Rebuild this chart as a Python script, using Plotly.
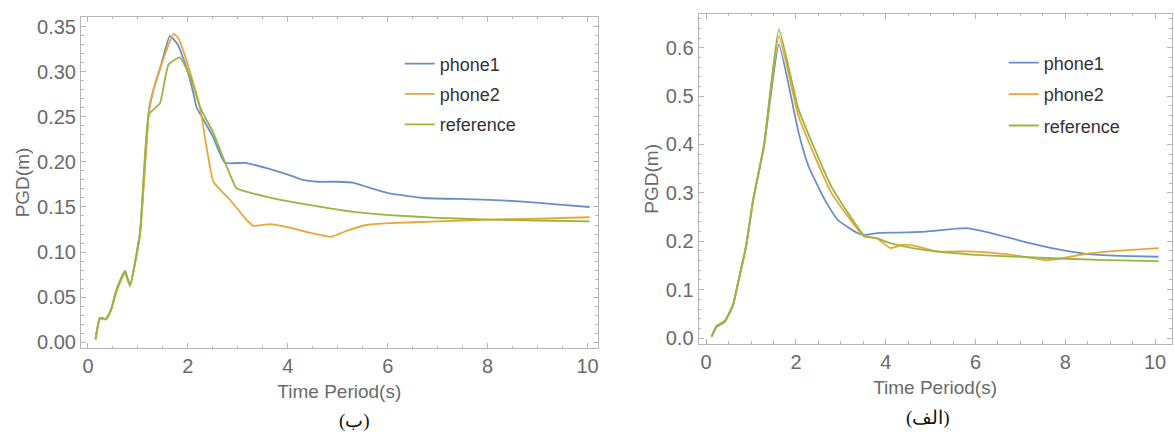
import plotly.graph_objects as go

# ---------- Panel (ب) (left) ----------
b_p1_x = [0.15, 0.24, 0.36, 0.46, 0.57, 0.74, 0.84, 1.04, 1.22, 1.31, 1.45, 1.64, 1.80, 1.97, 2.11, 2.17, 2.30, 2.50, 2.74, 3.14, 3.71, 4.00, 4.30, 4.60, 5.00, 5.30, 5.60, 6.04, 6.71, 7.40, 8.04, 8.70, 9.37, 10.04]
b_p1_y = [0.003, 0.027, 0.026, 0.036, 0.058, 0.079, 0.063, 0.121, 0.258, 0.280, 0.305, 0.340, 0.330, 0.305, 0.276, 0.261, 0.248, 0.228, 0.199, 0.199, 0.191, 0.186, 0.180, 0.178, 0.178, 0.177, 0.172, 0.165, 0.160, 0.159, 0.158, 0.156, 0.153, 0.150]

b_p2_x = [0.15, 0.24, 0.36, 0.46, 0.57, 0.74, 0.84, 1.04, 1.22, 1.31, 1.45, 1.71, 1.80, 1.97, 2.24, 2.51, 2.84, 3.17, 3.31, 3.64, 4.04, 4.40, 4.87, 5.20, 5.57, 6.04, 7.00, 8.04, 9.00, 10.04]
b_p2_y = [0.003, 0.026, 0.025, 0.035, 0.056, 0.077, 0.062, 0.118, 0.255, 0.280, 0.305, 0.342, 0.338, 0.313, 0.261, 0.178, 0.158, 0.136, 0.129, 0.131, 0.127, 0.122, 0.117, 0.124, 0.130, 0.132, 0.134, 0.136, 0.137, 0.1386]

b_ref_x = [0.15, 0.24, 0.36, 0.46, 0.57, 0.74, 0.84, 1.04, 1.22, 1.44, 1.61, 1.84, 2.07, 2.24, 2.51, 2.97, 3.17, 3.60, 4.24, 4.84, 5.40, 6.04, 7.00, 8.04, 9.00, 10.04]
b_ref_y = [0.003, 0.027, 0.026, 0.036, 0.058, 0.079, 0.063, 0.121, 0.253, 0.265, 0.308, 0.316, 0.291, 0.261, 0.232, 0.171, 0.167, 0.161, 0.154, 0.1485, 0.144, 0.141, 0.138, 0.136, 0.135, 0.134]

# ---------- Panel (الف) (right) ----------
a_p1_x = [0.12, 0.23, 0.42, 0.60, 0.71, 0.89, 1.05, 1.29, 1.62, 2.06, 2.28, 2.64, 2.93, 3.37, 3.52, 3.81, 4.25, 4.90, 5.78, 6.21, 7.09, 7.82, 8.47, 9.20, 10.08]
a_p1_y = [0.003, 0.023, 0.034, 0.068, 0.113, 0.189, 0.286, 0.396, 0.607, 0.424, 0.355, 0.286, 0.244, 0.217, 0.213, 0.217, 0.218, 0.220, 0.227, 0.220, 0.199, 0.184, 0.174, 0.170, 0.168]

a_p2_x = [0.12, 0.23, 0.42, 0.60, 0.71, 0.89, 1.05, 1.29, 1.62, 2.06, 2.79, 3.52, 3.81, 4.10, 4.39, 4.68, 5.12, 5.85, 6.72, 7.60, 7.80, 8.47, 9.30, 10.08]
a_p2_y = [0.003, 0.025, 0.036, 0.070, 0.115, 0.192, 0.288, 0.398, 0.624, 0.458, 0.300, 0.210, 0.206, 0.186, 0.193, 0.190, 0.179, 0.179, 0.173, 0.161, 0.163, 0.174, 0.181, 0.186]

a_ref_x = [0.12, 0.23, 0.42, 0.60, 0.71, 0.89, 1.05, 1.29, 1.62, 2.06, 2.79, 3.52, 3.81, 4.10, 4.60, 5.12, 6.00, 7.45, 8.91, 10.08]
a_ref_y = [0.003, 0.024, 0.035, 0.069, 0.114, 0.190, 0.287, 0.400, 0.638, 0.472, 0.313, 0.212, 0.206, 0.196, 0.186, 0.179, 0.172, 0.166, 0.161, 0.159]

names = ["phone1", "phone2", "reference"]
colors = ["#6a8fc4", "#e8a63a", "#94b83e"]

fig = go.Figure()
left = [(b_p1_x, b_p1_y), (b_p2_x, b_p2_y), (b_ref_x, b_ref_y)]
right = [(a_p1_x, a_p1_y), (a_p2_x, a_p2_y), (a_ref_x, a_ref_y)]
for i, (xs, ys) in enumerate(left):
    fig.add_trace(go.Scatter(x=xs, y=ys, mode="lines", name=names[i],
                             line=dict(color=colors[i], width=1.8, shape="spline", smoothing=0.4),
                             xaxis="x", yaxis="y", legend="legend", legendgroup="l%d" % i))
for i, (xs, ys) in enumerate(right):
    fig.add_trace(go.Scatter(x=xs, y=ys, mode="lines", name=names[i],
                             line=dict(color=colors[i], width=1.8, shape="spline", smoothing=0.4),
                             xaxis="x2", yaxis="y2", legend="legend2", legendgroup="r%d" % i))

tickfont = dict(family="Liberation Sans, Arial", size=20, color="#6a6a6a")
titlefont = dict(family="Liberation Sans, Arial", size=19, color="#6a6a6a")
frame = "#b5b5b5"

def xax(domain, rng, anchor):
    return dict(domain=domain, range=rng, anchor=anchor, showgrid=False, zeroline=False,
                showline=True, linecolor=frame, linewidth=1, mirror="ticks", automargin=False,
                ticks="inside", ticklen=5, tickcolor=frame, tick0=0, dtick=2,
                minor=dict(ticks="inside", ticklen=2.5, tickcolor=frame, dtick=0.5),
                tickfont=tickfont, title=dict(text="Time Period(s)", font=titlefont, standoff=8))

def yax(domain, rng, anchor, dtick, mdtick, fmt):
    return dict(domain=domain, range=rng, anchor=anchor, showgrid=False, zeroline=False,
                showline=True, linecolor=frame, linewidth=1, mirror="ticks", automargin=False,
                ticks="inside", ticklen=5, tickcolor=frame, tick0=0, dtick=dtick, tickformat=fmt,
                minor=dict(ticks="inside", ticklen=2.5, tickcolor=frame, dtick=mdtick),
                tickfont=tickfont, title=dict(text="PGD(m)", font=titlefont, standoff=2))

legfont = dict(family="Liberation Sans, Arial", size=18, color="#333333")

fig.update_layout(
    width=1174, height=432,
    margin=dict(l=0, r=0, t=0, b=0, autoexpand=False),
    paper_bgcolor="white", plot_bgcolor="white",
    xaxis=xax([0.069, 0.509], [-0.14, 10.2], "y"),
    yaxis=yax([0.194, 0.961], [-0.0067, 0.361], "x", 0.05, 0.01, ".2f"),
    xaxis2=xax([0.595, 0.998], [-0.17, 10.37], "y2"),
    yaxis2=yax([0.204, 0.968], [-0.012, 0.67], "x2", 0.1, 0.02, ".1f"),
    legend=dict(x=0.3405, y=0.895, xanchor="left", yanchor="top", bgcolor="rgba(0,0,0,0)",
                font=legfont, tracegroupgap=4, traceorder="grouped"),
    legend2=dict(x=0.855, y=0.897, xanchor="left", yanchor="top", bgcolor="rgba(0,0,0,0)",
                 font=legfont, tracegroupgap=5, traceorder="grouped"),
    showlegend=True,
)

capfont = dict(family="Liberation Serif, Times New Roman, DejaVu Serif", size=19, color="#111111")
fig.add_annotation(text="(ب)", x=337 / 1174, y=1 - 434 / 432, xref="paper", yref="paper",
                   showarrow=False, font=capfont)
fig.add_annotation(text="(الف)", x=952 / 1174, y=1 - 431 / 432, xref="paper", yref="paper",
                   showarrow=False, font=capfont)

fig.write_html("out.html", config={"displayModeBar": False},
               post_script="document.body.style.margin='0';document.body.style.overflow='hidden';")
